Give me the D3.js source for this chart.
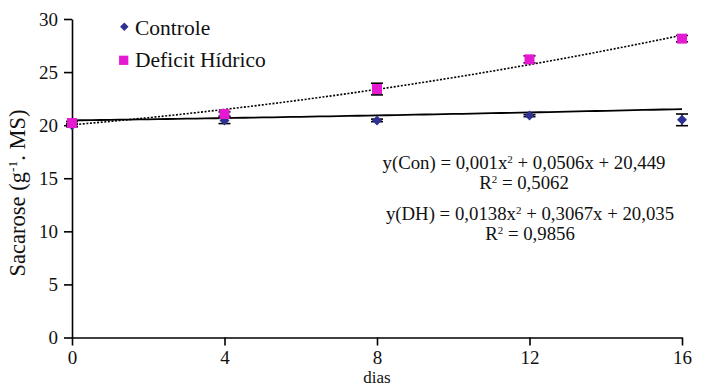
<!DOCTYPE html>
<html>
<head>
<meta charset="utf-8">
<script src="https://cdn.jsdelivr.net/npm/d3@7"></script>
<style>
  html, body { margin: 0; padding: 0; background: #fff; }
  svg text { font-family: "Liberation Serif", "DejaVu Serif", serif; }
</style>
</head>
<body>
<svg id="chart" width="702" height="387"></svg>
<script>
// Sucrose content over the drought period
const days = [0, 4, 8, 12, 16];
const controle = [20.0, 20.45, 20.45, 20.9, 20.5];
const controleErr = [0.15, 0.3, 0.12, 0.1, 0.55];
const deficit = [20.2, 21.05, 23.4, 26.2, 28.15];
const deficitErr = [0.15, 0.2, 0.55, 0.33, 0.3];

// Quadratic trend coefficients [a, b, c] for y = a·x² + b·x + c
const trendCon = [0.001, 0.0506, 20.449];
const trendDH = [0.0138, 0.3067, 20.035];
const r2Con = 0.5062;
const r2DH = 0.9856;

const seriesNames = ["Controle", "Deficit Hídrico"];
const xTicks = [0, 4, 8, 12, 16];
const yTicks = [0, 5, 10, 15, 20, 25, 30];

const colorCon = "#2e3192";
const colorDH = "#e619d2";
const FONT = "'Liberation Serif', 'DejaVu Serif', serif";

const W = 702, H = 387;
const margin = { top: 19, right: 20, bottom: 49.5, left: 72 };

const svg = d3.select("#chart");
const x = d3.scaleLinear().domain([0, 16]).range([margin.left, W - margin.right]);
const y = d3.scaleLinear().domain([0, 30]).range([H - margin.bottom, margin.top]);

const txt = (sel, size) => sel.style("font-family", FONT).style("font-size", size + "px").attr("fill", "#111");

// Axes
const xAxis = d3.axisBottom(x).tickValues(xTicks).tickSize(8).tickSizeOuter(0).tickPadding(5);
const yAxis = d3.axisLeft(y).tickValues(yTicks).tickSize(8).tickSizeOuter(0).tickPadding(6);

const gx = svg.append("g").attr("transform", `translate(0,${y(0)})`).call(xAxis);
const gy = svg.append("g").attr("transform", `translate(${x(0)},0)`).call(yAxis);
[gx, gy].forEach(g => {
  g.attr("font-family", null).attr("font-size", null);
  g.selectAll("path.domain").attr("stroke", "#000").attr("stroke-width", 1.6);
  g.selectAll(".tick line").attr("stroke", "#000").attr("stroke-width", 1.6);
  txt(g.selectAll(".tick text"), 19);
});

// Axis titles
txt(svg.append("text"), 17)
  .attr("x", x(8)).attr("y", 383.3)
  .attr("text-anchor", "middle")
  .text("dias");

const yTitle = txt(svg.append("text"), 22.5)
  .attr("transform", `translate(25,193) rotate(-90)`)
  .attr("text-anchor", "middle");
yTitle.append("tspan").text("Sacarose (g");
yTitle.append("tspan").attr("dy", -8).style("font-size", "13.5px").text("-1");
yTitle.append("tspan").attr("dy", 8).text(". MS)");

// Trend curves
const quad = c => v => c[0] * v * v + c[1] * v + c[2];
const xs = d3.range(0, 16.001, 0.25);
const line = d3.line().x(d => x(d[0])).y(d => y(d[1]));

svg.append("path")
  .datum(xs.map(v => [v, quad(trendCon)(v)]))
  .attr("d", line).attr("fill", "none")
  .attr("stroke", "#000").attr("stroke-width", 1.8);

svg.append("path")
  .datum(xs.map(v => [v, quad(trendDH)(v)]))
  .attr("d", line).attr("fill", "none")
  .attr("stroke", "#000").attr("stroke-width", 1.6)
  .attr("stroke-dasharray", "2,1.6");

// Error bars
function errorBars(vals, errs, cls) {
  const g = svg.append("g").attr("class", cls);
  const data = days.map((d, i) => ({ d, v: vals[i], e: errs[i] }));
  g.selectAll("line.v").data(data).join("line")
    .attr("x1", p => x(p.d)).attr("x2", p => x(p.d))
    .attr("y1", p => y(p.v - p.e)).attr("y2", p => y(p.v + p.e))
    .attr("stroke", "#000").attr("stroke-width", 1.4);
  [-1, 1].forEach(s => {
    g.selectAll(`line.c${s}`).data(data).join("line")
      .attr("x1", p => x(p.d) - 6).attr("x2", p => x(p.d) + 6)
      .attr("y1", p => y(p.v + s * p.e)).attr("y2", p => y(p.v + s * p.e))
      .attr("stroke", "#000").attr("stroke-width", 1.6);
  });
}
errorBars(controle, controleErr, "err-con");
errorBars(deficit, deficitErr, "err-dh");

// Markers
const diamond = d3.symbol(d3.symbolSquare, 50)();
const square = d3.symbol(d3.symbolSquare, 100)();

svg.append("g").selectAll("path").data(days).join("path")
  .attr("d", diamond)
  .attr("transform", (d, i) => `translate(${x(d)},${y(controle[i])}) rotate(45)`)
  .attr("fill", colorCon);

svg.append("g").selectAll("path").data(days).join("path")
  .attr("d", square)
  .attr("transform", (d, i) => `translate(${x(d)},${y(deficit[i])})`)
  .attr("fill", colorDH);

// Legend
const legend = svg.append("g");
legend.append("path").attr("d", d3.symbol(d3.symbolSquare, 36)())
  .attr("transform", "translate(124.3,26.7) rotate(45)").attr("fill", colorCon);
txt(legend.append("text"), 21.5).attr("x", 135).attr("y", 35).text(seriesNames[0]);
legend.append("path").attr("d", d3.symbol(d3.symbolSquare, 86)())
  .attr("transform", "translate(123.7,60.3)").attr("fill", colorDH);
txt(legend.append("text"), 21.5).attr("x", 135).attr("y", 67).text(seriesNames[1]);

// Trend equations: one text block per series, equation line then R² line
const fmt = (v, dec) => v.toFixed(dec).replace(".", ",");
const decs = v => { const s = String(v); return s.includes(".") ? s.split(".")[1].length : 0; };

function equation(cx, by, name, c, r2) {
  const t = txt(svg.append("text"), 18.8).attr("x", cx).attr("y", by).attr("text-anchor", "middle");
  const l1 = t.append("tspan").attr("x", cx).attr("y", by);
  l1.append("tspan").text(`y(${name}) = ${fmt(c[0], decs(c[0]))}x`);
  l1.append("tspan").attr("dy", -6).style("font-size", "11px").text("2");
  l1.append("tspan").attr("dy", 6).text(` + ${fmt(c[1], decs(c[1]))}x + ${fmt(c[2], decs(c[2]))}`);
  const l2 = t.append("tspan").attr("x", cx).attr("y", by + 20);
  l2.append("tspan").text("R");
  l2.append("tspan").attr("dy", -6).style("font-size", "11px").text("2");
  l2.append("tspan").attr("dy", 6).text(` = ${fmt(r2, 4)}`);
}
equation(524, 169, "Con", trendCon, r2Con);
equation(530, 220, "DH", trendDH, r2DH);
</script>
</body>
</html>
